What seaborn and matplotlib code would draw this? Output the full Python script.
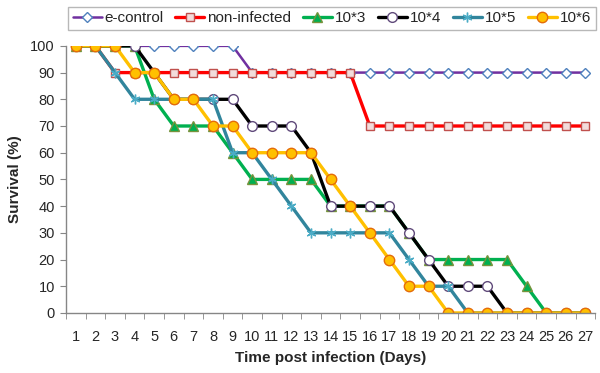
"""Survival curves after infection, recreated with seaborn."""

import matplotlib

matplotlib.use("Agg")

import matplotlib.pyplot as plt
import numpy as np
import pandas as pd
import seaborn as sns
from matplotlib.ticker import FixedLocator

days = list(range(1, 28))

e_control = [100, 100, 100, 100, 100, 100, 100, 100, 100, 90, 90, 90, 90, 90,
             90, 90, 90, 90, 90, 90, 90, 90, 90, 90, 90, 90, 90]
non_infected = [100, 100, 90, 90, 90, 90, 90, 90, 90, 90, 90, 90, 90, 90,
                90, 70, 70, 70, 70, 70, 70, 70, 70, 70, 70, 70, 70]
dose_1e3 = [100, 100, 100, 100, 80, 70, 70, 70, 60, 50, 50, 50, 50, 40,
            40, 40, 40, 30, 20, 20, 20, 20, 20, 10, 0, 0, 0]
dose_1e4 = [100, 100, 100, 100, 90, 80, 80, 80, 80, 70, 70, 70, 60, 40,
            40, 40, 40, 30, 20, 10, 10, 10, 0, 0, 0, 0, 0]
dose_1e5 = [100, 100, 90, 80, 80, 80, 80, 80, 60, 60, 50, 40, 30, 30,
            30, 30, 30, 20, 10, 10, 0, 0, 0, 0, 0, 0, 0]
dose_1e6 = [100, 100, 100, 90, 90, 80, 80, 70, 70, 60, 60, 60, 60, 50,
            40, 30, 20, 10, 10, 0, 0, 0, 0, 0, 0, 0, 0]

series_names = ["e-control", "non-infected", "10*3", "10*4", "10*5", "10*6"]
series_values = [e_control, non_infected, dose_1e3, dose_1e4, dose_1e5, dose_1e6]

styles = {
    "e-control": dict(color="#7030A0", marker="D", ms=5, mfc="white", mec="#4F81BD", lw=1.8),
    "non-infected": dict(color="#FF0000", marker="s", ms=5.5, mfc="#F2DCDB", mec="#C0504D", lw=2.4),
    "10*3": dict(color="#00B050", marker="^", ms=7, mfc="#00B050", mec="#77933C", lw=2.4),
    "10*4": dict(color="#000000", marker="o", ms=7, mfc="white", mec="#604A7B", lw=2.4),
    "10*5": dict(color="#31859C", marker=(6, 2, 0), ms=7, mfc="#31859C", mec="#4BACC6", lw=2.4),
    "10*6": dict(color="#FFC000", marker="o", ms=7.5, mfc="#FFC000", mec="#E46C0A", lw=2.4),
}

frame = pd.DataFrame({"day": np.tile(days, len(series_names)),
                      "survival": np.concatenate(series_values),
                      "group": np.repeat(series_names, len(days))})

sns.set_style("white")
plt.rcParams["font.family"] = ["Liberation Sans", "DejaVu Sans"]

fig = plt.figure(figsize=(6.0, 3.73), dpi=100)
ax = fig.add_axes([0.11, 0.161, 0.882, 0.716])

for name in series_names:
    st = styles[name]
    sub = frame[frame["group"] == name]
    sns.lineplot(data=sub, x="day", y="survival", ax=ax, label=name,
                 color=st["color"], linewidth=st["lw"], marker=st["marker"],
                 markersize=st["ms"], markerfacecolor=st["mfc"],
                 markeredgecolor=st["mec"], markeredgewidth=1.0)

ax.set_xlim(0.5, 27.5)
ax.set_ylim(0, 100)
ax.set_yticks(range(0, 101, 10))
ax.set_xticks(days)
ax.xaxis.set_minor_locator(FixedLocator(np.arange(0.5, 28, 1)))
ax.tick_params(axis="x", which="major", length=0, labelsize=10.5, pad=12)
ax.tick_params(axis="x", which="minor", length=4, color="#868686", direction="out", bottom=True)
ax.tick_params(axis="y", length=4, color="#868686", direction="out", left=True,
               labelsize=10.5, pad=4)

for side in ["top", "right"]:
    ax.spines[side].set_visible(False)
for side in ["left", "bottom"]:
    ax.spines[side].set_color("#868686")
    ax.spines[side].set_linewidth(1.0)

ax.set_xlabel("Time post infection (Days)", fontsize=11, fontweight="bold", labelpad=5)
ax.set_ylabel("Survival (%)", fontsize=11, fontweight="bold", labelpad=6)

ax.legend(loc="center", bbox_to_anchor=(0.553, 0.951), bbox_transform=fig.transFigure,
          ncol=6, frameon=True, fancybox=False, edgecolor="#A6A6A6", fontsize=11,
          handlelength=1.9, handletextpad=0.2, columnspacing=0.75, borderpad=0.3,
          borderaxespad=0)

fig.savefig("out.png", dpi=100)
